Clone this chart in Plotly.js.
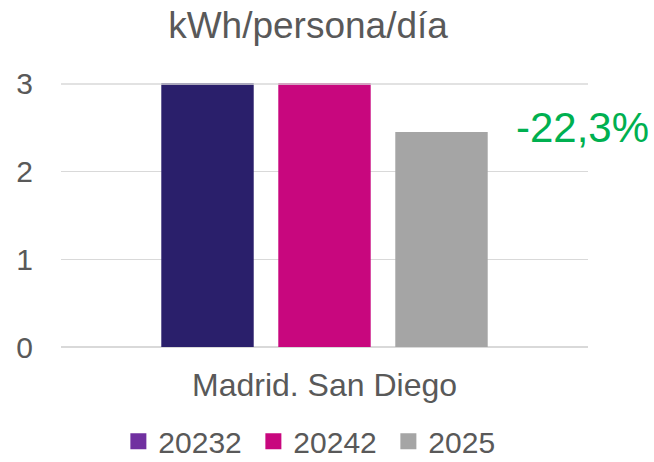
<!DOCTYPE html>
<html><head><meta charset="utf-8">
<script src="https://cdn.plot.ly/plotly-3.0.1.min.js"></script>
<style>html,body{margin:0;padding:0;background:#fff}</style>
</head><body><div id="chart" style="width:654px;height:462px"></div>
<script>
const categories = ["Madrid. San Diego"];
const seriesNames = ["20232", "20242", "2025"];
const values2023 = [3.12];
const values2024 = [3.15];
const values2025 = [2.45];
const barColors = ["#2A1F6B", "#C8077E", "#A5A5A5"];
const legendColors = ["#7030A0", "#C8077E", "#A5A5A5"];
const changeLabel = "-22,3%";
const yTicks = [0, 1, 2, 3];

const series = [values2023, values2024, values2025];
const font = "Liberation Sans, Arial, sans-serif";
const traces = [];
series.forEach((vals, i) => {
  traces.push({type: "bar", x: categories, y: vals, name: seriesNames[i],
    marker: {color: barColors[i], line: {color: barColors[i], width: 0}},
    showlegend: false, hoverinfo: "none"});
});
series.forEach((vals, i) => {
  traces.push({type: "scatter", mode: "markers", x: [null], y: [null], name: seriesNames[i],
    marker: {color: legendColors[i], symbol: "square", size: 17}, showlegend: true});
});

const layout = {
  width: 654, height: 462,
  margin: {l: 61, r: 66, t: 83, b: 115},
  paper_bgcolor: "#fff", plot_bgcolor: "#fff",
  font: {family: font, color: "#595959", size: 30},
  title: {text: "kWh/persona/día", x: 0.471, xanchor: "center", y: 0.945, yanchor: "middle",
    font: {family: font, size: 37, color: "#595959"}},
  barmode: "group", bargap: 0.334, bargroupgap: 0.21,
  xaxis: {type: "category", showgrid: false, zeroline: false, showline: false, automargin: false,
    ticks: "", ticklabelstandoff: 16, tickfont: {size: 32, color: "#595959"}, fixedrange: true},
  yaxis: {range: [0, 3.01], tickvals: yTicks, ticktext: yTicks.map(String), automargin: false,
    showgrid: true, gridcolor: "#D9D9D9", gridwidth: 1.5,
    zeroline: true, zerolinecolor: "#D9D9D9", zerolinewidth: 1.5, showline: false,
    ticks: "", ticklabelstandoff: 27, tickfont: {size: 30, color: "#595959"}},
  legend: {orientation: "h", xref: "container", yref: "container", x: 0.181, xanchor: "left",
    y: 0.045, yanchor: "middle", entrywidth: 90, entrywidthmode: "pixels",
    font: {size: 30, color: "#595959"}, traceorder: "normal", itemwidth: 30},
  shapes: [{type: "line", xref: "paper", yref: "y", x0: 0, x1: 1, y0: 3, y1: 3,
    layer: "above", line: {color: "#D9D9D9", width: 1.5}}],
  annotations: [{text: changeLabel, xref: "paper", yref: "paper", x: 0.99, y: 0.83,
    xanchor: "center", yanchor: "middle", showarrow: false,
    font: {family: font, size: 42, color: "#00B050"}}]
};
Plotly.newPlot("chart", traces, layout, {displayModeBar: false, staticPlot: true});
</script></body></html>
